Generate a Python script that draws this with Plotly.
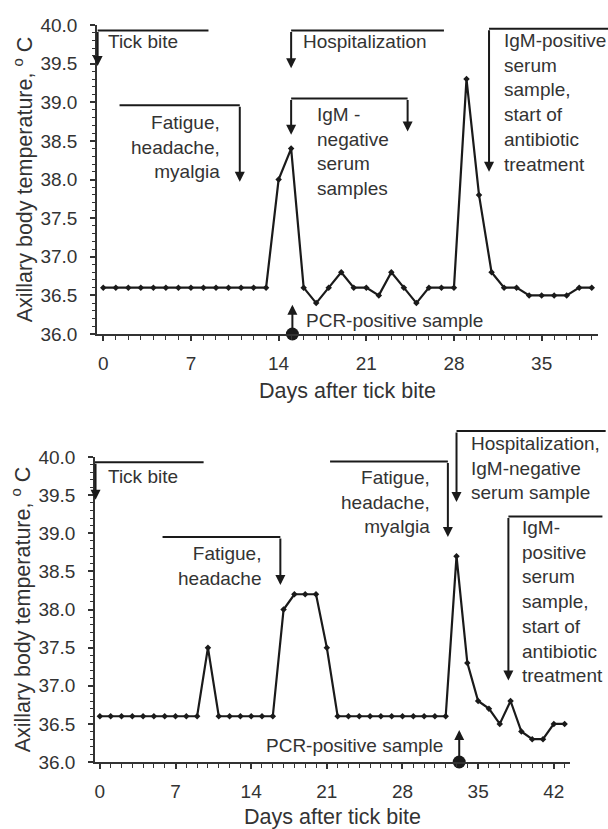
import plotly.graph_objects as go

# ---------------- data ----------------
top_days = [0, 1, 2, 3, 4, 5, 6, 7, 8, 9, 10, 11, 12, 13, 14, 15, 16, 17, 18, 19,
            20, 21, 22, 23, 24, 25, 26, 27, 28, 29, 30, 31, 32, 33, 34, 35, 36, 37, 38, 39]
top_temp = [36.6, 36.6, 36.6, 36.6, 36.6, 36.6, 36.6, 36.6, 36.6, 36.6, 36.6, 36.6, 36.6, 36.6,
            38.0, 38.4, 36.6, 36.4, 36.6, 36.8, 36.6, 36.6, 36.5, 36.8, 36.6, 36.4, 36.6, 36.6,
            36.6, 39.3, 37.8, 36.8, 36.6, 36.6, 36.5, 36.5, 36.5, 36.5, 36.6, 36.6]

bottom_days = [0, 1, 2, 3, 4, 5, 6, 7, 8, 9, 10, 11, 12, 13, 14, 15, 16, 17, 18, 19, 20, 21,
               22, 23, 24, 25, 26, 27, 28, 29, 30, 31, 32, 33, 34, 35, 36, 37, 38, 39, 40, 41, 42, 43]
bottom_temp = [36.6, 36.6, 36.6, 36.6, 36.6, 36.6, 36.6, 36.6, 36.6, 36.6, 37.5,
               36.6, 36.6, 36.6, 36.6, 36.6, 36.6, 38.0, 38.2, 38.2, 38.2, 37.5,
               36.6, 36.6, 36.6, 36.6, 36.6, 36.6, 36.6, 36.6, 36.6, 36.6, 36.6,
               38.7, 37.3, 36.8, 36.7, 36.5, 36.8, 36.4, 36.3, 36.3, 36.5, 36.5]

pcr_day_top = [15.1]
pcr_day_bottom = [33.25]
pcr_temp = [36.0]

x_title = "Days after tick bite"
y_title = "Axillary body temperature, <sup>o</sup> C"

# ---------------- layout geometry ----------------
W, H = 608, 829
ML, MR, MT, MB = 95, 10, 25, 67
PW, PH = W - ML - MR, H - MT - MB

# panel frames in page pixels
top_px = dict(x0=97, x1=598, y0=334, y1=25, xr=(-0.5, 39.5), yr=(36.0, 40.0))
bot_px = dict(x0=95, x1=570, y0=762, y1=457, xr=(-0.45, 43.5), yr=(36.0, 40.0))


def dom(p):
    xd = [(p["x0"] - ML) / PW, (p["x1"] - ML) / PW]
    yd = [(H - MB - p["y0"]) / PH, (H - MB - p["y1"]) / PH]
    return [max(0, xd[0]), min(1, xd[1])], [max(0, yd[0]), min(1, yd[1])]


def to_paper(p, day, temp):
    px = p["x0"] + (day - p["xr"][0]) / (p["xr"][1] - p["xr"][0]) * (p["x1"] - p["x0"])
    py = p["y0"] + (temp - p["yr"][0]) / (p["yr"][1] - p["yr"][0]) * (p["y1"] - p["y0"])
    return (px - ML) / PW, (H - MB - py) / PH, py


INK = "#1a1a1a"
TXT = "#333333"
FONT = "Liberation Sans, Arial, sans-serif"
FS = 19

fig = go.Figure()

for xs, ys, xa, ya in [(top_days, top_temp, "x", "y"), (bottom_days, bottom_temp, "x2", "y2")]:
    fig.add_trace(go.Scatter(x=xs, y=ys, xaxis=xa, yaxis=ya, mode="lines+markers",
                             line=dict(color=INK, width=2.2),
                             marker=dict(symbol="diamond", size=5, color=INK),
                             showlegend=False, hoverinfo="skip"))

for xs, xa, ya in [(pcr_day_top, "x", "y"), (pcr_day_bottom, "x2", "y2")]:
    fig.add_trace(go.Scatter(x=xs, y=pcr_temp, xaxis=xa, yaxis=ya, mode="markers",
                             marker=dict(symbol="circle", size=13, color=INK),
                             cliponaxis=False, showlegend=False, hoverinfo="skip"))

shapes = []
annotations = []


def hline(p, d0, d1, t):
    x0, y0, _ = to_paper(p, d0, t)
    x1, _, _ = to_paper(p, d1, t)
    shapes.append(dict(type="line", xref="paper", yref="paper", x0=x0, x1=x1, y0=y0, y1=y0,
                       line=dict(color=INK, width=2)))


def arrow(p, d, t_tail, t_tip):
    x, y, py_tip = to_paper(p, d, t_tip)
    _, _, py_tail = to_paper(p, d, t_tail)
    annotations.append(dict(xref="paper", yref="paper", x=x, y=y, ax=0, ay=py_tail - py_tip,
                            text="", showarrow=True, arrowhead=2, arrowsize=1.0,
                            arrowwidth=2, arrowcolor=INK, standoff=0))


def label(p, d, t, text, anchor):
    x, y, _ = to_paper(p, d, t)
    annotations.append(dict(xref="paper", yref="paper", x=x, y=y, text=text, showarrow=False,
                            xanchor=anchor, yanchor="middle", align=anchor,
                            font=dict(family=FONT, size=FS, color=TXT)))


def bracket(p, d0, d1, t_level, bend_day, t_tip):
    hline(p, d0, d1, t_level)
    arrow(p, bend_day, t_level, t_tip)


# ---- top panel ----
P = top_px
bracket(P, -0.45, 8.4, 39.93, -0.45, 39.47)
label(P, 0.25, 39.78, "Tick bite", "left")
bracket(P, 1.3, 10.9, 38.96, 10.9, 37.97)
label(P, 9.5, 38.42, "Fatigue,<br>headache,<br>myalgia", "right")
bracket(P, 15.0, 27.2, 39.93, 15.0, 39.44)
label(P, 15.75, 39.78, "Hospitalization", "left")
bracket(P, 15.0, 24.3, 39.05, 15.0, 38.58)
arrow(P, 24.3, 39.05, 38.62)
label(P, 16.9, 38.36, "IgM -<br>negative<br>serum<br>samples", "left")
bracket(P, 30.8, 40.3, 39.95, 30.8, 38.10)
label(P, 31.85, 39.0, "IgM-positive<br>serum<br>sample,<br>start of<br>antibiotic<br>treatment", "left")
arrow(P, pcr_day_top[0], 36.0, 36.38)
label(P, 16.05, 36.18, "PCR-positive sample", "left")

# ---- bottom panel ----
P = bot_px
bracket(P, -0.45, 9.6, 39.93, -0.4, 39.44)
label(P, 0.55, 39.75, "Tick bite", "left")
bracket(P, 5.8, 16.7, 38.95, 16.7, 38.32)
label(P, 15.1, 38.57, "Fatigue,<br>headache", "right")
bracket(P, 21.3, 32.2, 39.94, 32.2, 38.95)
label(P, 30.7, 39.41, "Fatigue,<br>headache,<br>myalgia", "right")
bracket(P, 33.0, 46.8, 40.34, 33.0, 39.41)
label(P, 34.2, 39.85, "Hospitalization,<br>IgM-negative<br>serum sample", "left")
bracket(P, 37.8, 46.5, 39.22, 37.8, 37.07)
label(P, 38.85, 38.1, "IgM-<br>positive<br>serum<br>sample,<br>start of<br>antibiotic<br>treatment", "left")
arrow(P, pcr_day_bottom[0], 36.0, 36.42)
label(P, 31.9, 36.22, "PCR-positive sample", "right")

xd1, yd1 = dom(top_px)
xd2, yd2 = dom(bot_px)

axis_common = dict(showline=True, linecolor=TXT, linewidth=1.5, showgrid=False, zeroline=False,
                   automargin=False, ticks="outside", tickcolor=TXT, tickwidth=1.5,
                   tickfont=dict(family=FONT, size=FS, color=TXT))

xcommon = dict(axis_common, tick0=0, dtick=7, ticklen=5, ticklabelstandoff=6,
               minor=dict(dtick=1, ticklen=4, tickcolor=TXT, tickwidth=1, ticks="outside"),
               title=dict(text=x_title, font=dict(family=FONT, size=21.5, color=TXT), standoff=10))
ycommon = dict(axis_common, dtick=0.5, tickformat=".1f", ticklen=5, ticklabelstandoff=9,
               minor=dict(dtick=0.1, ticklen=3, tickcolor=TXT, tickwidth=1, ticks="outside"),
               title=dict(text=y_title, font=dict(family=FONT, size=21.5, color=TXT), standoff=2))

fig.update_layout(
    width=W, height=H, margin=dict(l=ML, r=MR, t=MT, b=MB),
    paper_bgcolor="white", plot_bgcolor="white",
    font=dict(family=FONT, color=TXT),
    xaxis=dict(xcommon, domain=xd1, range=list(top_px["xr"]), anchor="y"),
    yaxis=dict(ycommon, domain=yd1, range=list(top_px["yr"]), anchor="x"),
    xaxis2=dict(xcommon, domain=xd2, range=list(bot_px["xr"]), anchor="y2"),
    yaxis2=dict(ycommon, domain=yd2, range=list(bot_px["yr"]), anchor="x2"),
    shapes=shapes, annotations=annotations,
)

fig.write_html("out.html", config={"displayModeBar": False},
               post_script="document.body.style.margin='0px';")
